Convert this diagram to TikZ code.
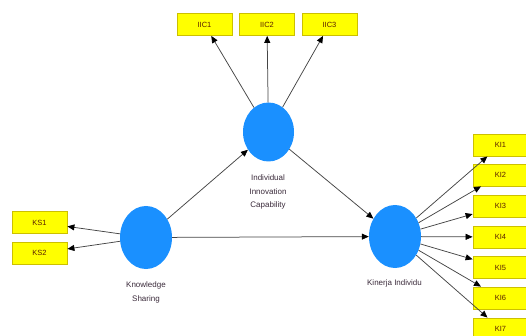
\documentclass[tikz,border=0pt]{standalone}
\usepackage{fontspec}
\setmainfont{Liberation Sans}
\usetikzlibrary{shapes.geometric,arrows.meta}
\definecolor{boxfill}{HTML}{FFFF00}
\definecolor{boxedge}{HTML}{CCC000}
\definecolor{latent}{HTML}{1A90FF}
\definecolor{lbl}{HTML}{3A2A3A}
\definecolor{boxtxt}{HTML}{5A2000}
\definecolor{edgecol}{HTML}{454545}
\begin{document}
\begin{tikzpicture}[x=1pt,y=-1pt,
 indicator/.style={rectangle,draw=boxedge,fill=boxfill,line width=0.8pt,minimum width=55pt,minimum height=22pt,inner sep=0pt,font=\fontsize{7.5}{8}\selectfont,text=boxtxt},
 construct/.style={ellipse,fill=latent,minimum width=52pt,minimum height=63pt,inner sep=0pt},
 clabel/.style={align=center,font=\fontsize{8}{13.3}\selectfont,text=lbl,inner sep=0pt,anchor=north},
 link/.style={draw=edgecol,line width=0.75pt,-{Triangle[length=7pt,width=6pt,color=black]}}]
\useasboundingbox (0,0) rectangle (526,336);
\clip (0,0) rectangle (526,336);
% constructs
\node[construct,minimum width=51pt,minimum height=59pt] (iic) at (268.5,132) {};
\node[construct] (ks) at (146,237.5) {};
\node[construct] (ki) at (395,236.5) {};
% labels
\node[clabel] (iicl) at (268,175) {Individual\\Innovation\\Capability};
\node[clabel] (ksl) at (146,282) {Knowledge\\Sharing};
\node[clabel] (kil) at (394.5,280) {Kinerja Individu};
% indicators
\node[indicator] (iic1) at (204.5,24.5) {IIC1};
\node[indicator] (iic2) at (267,24.5) {IIC2};
\node[indicator] (iic3) at (329.5,24.5) {IIC3};
\node[indicator] (ks1) at (39.5,222.5) {KS1};
\node[indicator] (ks2) at (39.5,253) {KS2};
\node[indicator] (ki1) at (500.5,145) {KI1};
\node[indicator] (ki2) at (500.5,175) {KI2};
\node[indicator] (ki3) at (500.5,206) {KI3};
\node[indicator] (ki4) at (500.5,237) {KI4};
\node[indicator] (ki5) at (500.5,267.5) {KI5};
\node[indicator] (ki6) at (500.5,298) {KI6};
\node[indicator] (ki7) at (500.5,329) {KI7};
% structural paths
\draw[link] (ks) -- (iic);
\draw[link] (ks) -- (ki);
\draw[link] (iic) -- (ki);
% outer loadings
\foreach \t in {iic1,iic2,iic3} \draw[link] (iic) -- (\t);
\foreach \t in {ks1,ks2} \draw[link] (ks) -- (\t);
\foreach \t in {ki1,ki2,ki3,ki4,ki5,ki6,ki7} \draw[link] (ki) -- (\t);
\end{tikzpicture}
\end{document}
